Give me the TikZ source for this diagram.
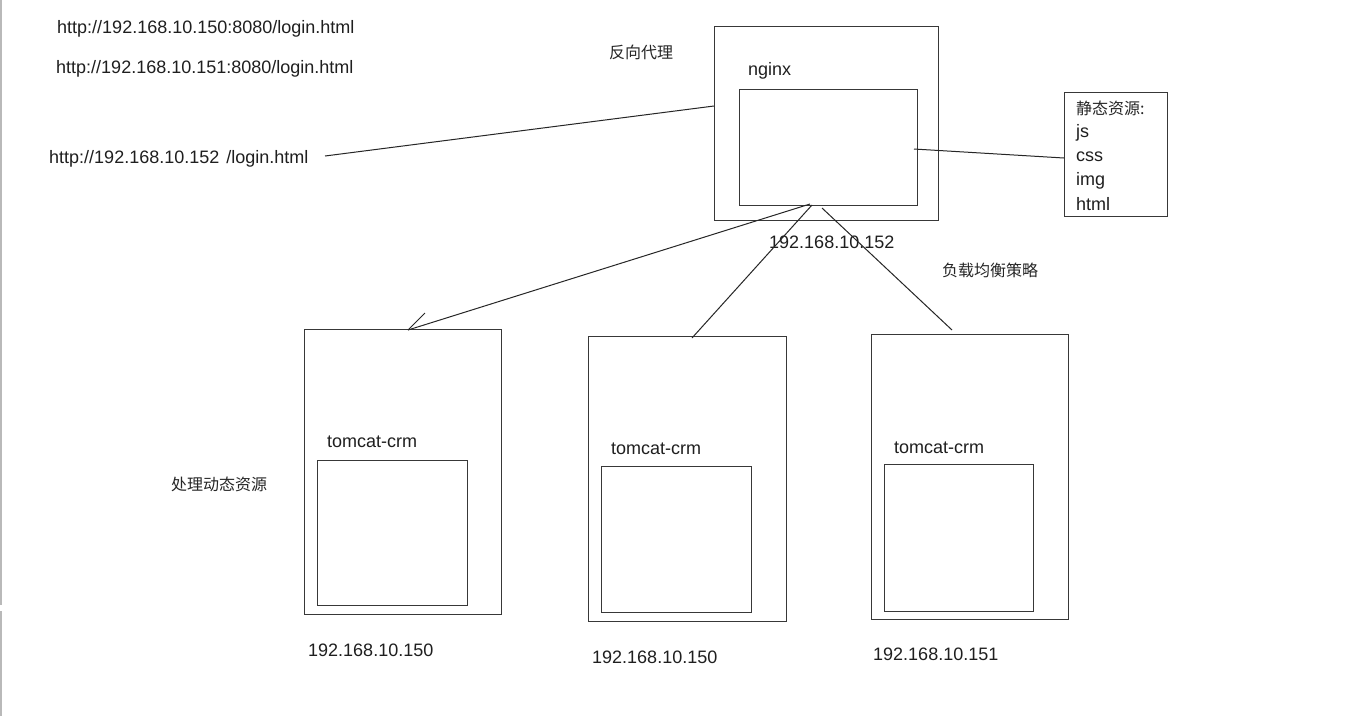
\documentclass[tikz,border=0pt]{standalone}
\usepackage{fontspec}
\setmainfont{Liberation Sans}
\newfontfamily\cjk{Noto Sans CJK SC}
\tikzset{
  px/.style={x=1pt,y=-1pt},
  box/.style={draw=black!78, line width=1.3pt, minimum width=#1, anchor=north west, inner sep=0pt},
  lbl/.style={anchor=west, inner sep=0pt, yshift=-1.5pt, text=black!88, font=\fontsize{18}{21}\selectfont},
  cn/.style={anchor=west, inner sep=0pt, yshift=-1pt, text=black!85, font=\cjk\fontsize{16}{19}\selectfont},
  wire/.style={draw=black!85, line width=1pt}
}
\begin{document}
\begin{tikzpicture}[px]
\useasboundingbox (0,0) rectangle (1369,716);
\fill[white] (0,0) rectangle (1369,716);
% window edge
\draw[gray!55, line width=1.5pt] (1,0) -- (1,605);
\draw[gray!55, line width=1.5pt] (1,611) -- (1,716);

% URLs
\node[lbl] (u1) at (57,27) {http://192.168.10.150:8080/login.html};
\node[lbl] (u2) at (56,67) {http://192.168.10.151:8080/login.html};
\node[lbl] (u3) at (49,157) {http://192.168.10.152\hspace{7pt}/login.html};

% nginx
\node[box=224pt, minimum height=194pt] (ngx) at (714,26) {};
\node[box=178pt, minimum height=116pt] (ngxin) at (739,89) {};
\node[lbl] (ngxl) at (748,69) {nginx};
\node[cn] (fxdl) at (609,51) {反向代理};
\node[lbl] (ip152) at (769,241) {192.168.10.152};

% static resources
\node[box=103pt, minimum height=124pt] (st) at (1064,92) {};
\node[cn] (s0) at (1076,107) {静态资源:};
\node[lbl] (s1) at (1076,131) {js};
\node[lbl] (s2) at (1076,155) {css};
\node[lbl] (s3) at (1076,179) {img};
\node[lbl] (s4) at (1076,203) {html};

% tomcats
\node[box=197pt, minimum height=285pt] (t1) at (304,329) {};
\node[box=150pt, minimum height=145pt] (t1in) at (317,460) {};
\node[lbl] (t1l) at (327,440) {tomcat-crm};
\node[lbl] (t1ip) at (308,649) {192.168.10.150};

\node[box=198pt, minimum height=285pt] (t2) at (588,336) {};
\node[box=150pt, minimum height=146pt] (t2in) at (601,466) {};
\node[lbl] (t2l) at (611,447) {tomcat-crm};
\node[lbl] (t2ip) at (592,656) {192.168.10.150};

\node[box=197pt, minimum height=285pt] (t3) at (871,334) {};
\node[box=149pt, minimum height=147pt] (t3in) at (884,464) {};
\node[lbl] (t3l) at (894,446) {tomcat-crm};
\node[lbl] (t3ip) at (873,653) {192.168.10.151};

\node[cn] (fzjh) at (942,269) {负载均衡策略};
\node[cn] (cldt) at (171,483) {处理动态资源};

% connector end points
\coordinate (c0) at (325,156);
\coordinate (c1) at (714,106);
\coordinate (c2) at (914,149);
\coordinate (c3) at (1064,158);
\coordinate (c4) at (810,204);
\coordinate (c5) at (408,330);
\coordinate (c5b) at (425,313);
\coordinate (c6) at (812,205);
\coordinate (c7) at (692,338);
\coordinate (c8) at (822,208);
\coordinate (c9) at (952,330);

\draw[wire] (c0) -- (c1);
\draw[wire] (c2) -- (c3);
\draw[wire] (c4) -- (c5);
\draw[wire] (c5) -- (c5b);
\draw[wire] (c6) -- (c7);
\draw[wire] (c8) -- (c9);
\end{tikzpicture}
\end{document}
